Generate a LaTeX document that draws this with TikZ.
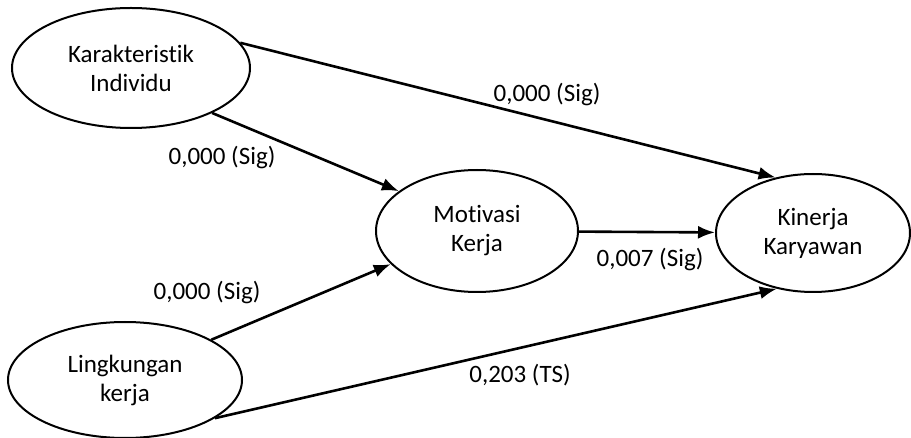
\documentclass[tikz,border=0pt]{standalone}
\usepackage{fontspec}
\setmainfont[Ligatures=NoCommon]{Carlito}
\usetikzlibrary{arrows.meta, shapes.geometric}

\begin{document}
\begin{tikzpicture}[x=1pt, y=-1pt,
   construct/.style ={ellipse, draw, line width=2pt, inner sep = 0pt, align=center,
      font=\fontsize{25}{29}\selectfont},
   effect/.style ={line width=2.6pt, -{Latex[length=17pt, width=13pt]}},
   sig/.style ={font=\fontsize{25}{29}\selectfont}]
   \useasboundingbox (0,0) rectangle (911,438);
   \node[construct, minimum width=238pt, minimum height=120pt] (KI)  at (131,68)  {Karakteristik\\Individu};
   \node[construct, minimum width=234pt, minimum height=116pt] (LK)  at (125,380) {Lingkungan\\kerja};
   \node[construct, minimum width=202pt, minimum height=122pt] (MK)  at (477,231) {Motivasi\\Kerja};
   \node[construct, minimum width=194pt, minimum height=118pt] (KK)  at (813,233) {Kinerja\\Karyawan};
   
   \node[sig] (kikk) at (547,95)  {0,000 (Sig)};
   \node[sig] (kimk) at (222,158) {0,000 (Sig)};
   \node[sig] (mkkk) at (650,260) {0,007 (Sig)};
   \node[sig] (lkmk) at (207,293) {0,000 (Sig)};
   \node[sig] (lkkk) at (520,375) {0,203 (TS)};
   
   \draw[effect] (KI.13)  to  (KK.124);
   \draw[effect] (KI.-29) to  (MK.153);
   \draw[effect] (MK)     to  (KK);
   \draw[effect] (LK.25)  to  (MK.-159);
   \draw[effect] (LK.-23) to  (KK.-123);
 \end{tikzpicture}
\end{document}
